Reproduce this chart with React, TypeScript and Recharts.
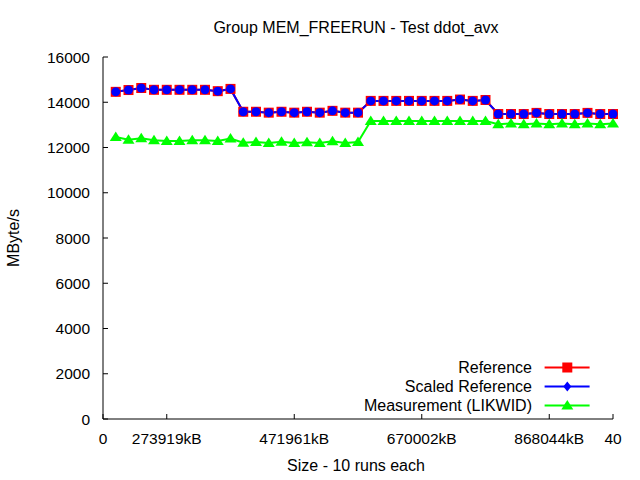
import React from 'react';
import { LineChart, Line, XAxis, YAxis, Legend } from 'recharts';

const xPositions = [
  1, 2, 3, 4, 5, 6, 7, 8, 9, 10,
  11, 12, 13, 14, 15, 16, 17, 18, 19, 20,
  21, 22, 23, 24, 25, 26, 27, 28, 29, 30,
  31, 32, 33, 34, 35, 36, 37, 38, 39, 40,
];

const referenceValues = [
  14460, 14540, 14630, 14550, 14550, 14550, 14550, 14550, 14490, 14590,
  13580, 13580, 13540, 13580, 13540, 13580, 13540, 13620, 13540, 13540,
  14060, 14060, 14060, 14060, 14060, 14060, 14060, 14120, 14060, 14100,
  13480, 13480, 13480, 13530, 13480, 13480, 13480, 13530, 13480, 13480,
];

const scaledReferenceValues = [
  14460, 14540, 14630, 14550, 14550, 14550, 14550, 14550, 14490, 14590,
  13580, 13580, 13540, 13580, 13540, 13580, 13540, 13620, 13540, 13540,
  14060, 14060, 14060, 14060, 14060, 14060, 14060, 14120, 14060, 14100,
  13480, 13480, 13480, 13530, 13480, 13480, 13480, 13530, 13480, 13480,
];

const measurementValues = [
  12460, 12340, 12410, 12320, 12290, 12290, 12320, 12320, 12290, 12400,
  12210, 12240, 12200, 12250, 12200, 12230, 12200, 12280, 12200, 12240,
  13170, 13170, 13170, 13170, 13170, 13170, 13170, 13170, 13170, 13170,
  13030, 13060, 13030, 13060, 13030, 13060, 13030, 13060, 13030, 13060,
];

const xTickValues = [0, 5, 15, 25, 35, 40];
const xTickLabels = ['0', '273919kB', '471961kB', '670002kB', '868044kB', '40'];
const xMirrorTicks = [5, 15, 25, 35];
const yTickValues = [0, 2000, 4000, 6000, 8000, 10000, 12000, 14000, 16000];

const seriesNames = ['Reference', 'Scaled Reference', 'Measurement (LIKWID)'];
const seriesKeys = ['ref', 'scaled', 'meas'];
const seriesColors = ['#ff0000', '#0000ff', '#00ff00'];
const seriesMarkers = ['square', 'diamond', 'triangle'];

const data = xPositions.map((x, i) => ({
  x,
  ref: referenceValues[i],
  scaled: scaledReferenceValues[i],
  meas: measurementValues[i],
}));

const FONT = "'Liberation Sans', Arial, sans-serif";

const SquareDot = (props: any) => {
  const { cx, cy } = props;
  if (cx == null || cy == null) return null;
  return <rect x={cx - 5} y={cy - 5} width={10} height={10} fill="#ff0000" />;
};

const CircleDot = (props: any) => {
  const { cx, cy } = props;
  if (cx == null || cy == null) return null;
  return <circle cx={cx} cy={cy} r={4.5} fill="#0000ff" />;
};

const TriangleDot = (props: any) => {
  const { cx, cy } = props;
  if (cx == null || cy == null) return null;
  return (
    <polygon
      points={`${cx},${cy - 5.5} ${cx - 6},${cy + 4} ${cx + 6},${cy + 4}`}
      fill="#00ff00"
    />
  );
};

const markerSvg = (kind: string, color: string, cx: number, cy: number) => {
  if (kind === 'square') return <rect x={cx - 5} y={cy - 5} width={10} height={10} fill={color} />;
  if (kind === 'diamond')
    return <polygon points={`${cx},${cy - 5} ${cx + 4},${cy} ${cx},${cy + 5} ${cx - 4},${cy}`} fill={color} />;
  return <polygon points={`${cx},${cy - 5.5} ${cx - 6},${cy + 4} ${cx + 6},${cy + 4}`} fill={color} />;
};

const renderLegend = () => (
  <div style={{ fontFamily: FONT, fontSize: 16, color: '#000' }}>
    {seriesNames.map((name, i) => (
      <div key={name} style={{ display: 'flex', height: 19.2, alignItems: 'center' }}>
        <div style={{ width: 292, textAlign: 'right', lineHeight: '19.2px', whiteSpace: 'nowrap' }}>{name}</div>
        <svg width={60} height={19} style={{ display: 'block' }}>
          <line x1={12.6} x2={57.6} y1={9.5} y2={9.5} stroke={seriesColors[i]} strokeWidth={2} />
          {markerSvg(seriesMarkers[i], seriesColors[i], 35.3, 9.5)}
        </svg>
      </div>
    ))}
  </div>
);

const xTickFormatter = (v: number) => {
  const idx = xTickValues.indexOf(v);
  return idx >= 0 ? xTickLabels[idx] : '';
};

const EmptyTick = () => <g />;

export default function App() {
  return (
    <div style={{ position: 'absolute', left: 0, top: 0, width: 640, height: 480, background: '#fff' }}>
      <LineChart
        width={640}
        height={480}
        data={data}
        margin={{ top: 57, right: 27, bottom: 0, left: 0 }}
      >
        <XAxis
          dataKey="x"
          type="number"
          domain={[0, 40]}
          ticks={xTickValues}
          tickFormatter={xTickFormatter}
          interval={0}
          height={61}
          tickSize={-5}
          tickMargin={18.5}
          stroke="#000"
          tick={{ fill: '#000', fontSize: 15.5, fontFamily: FONT }}
          axisLine={{ stroke: '#000', strokeWidth: 1 }}
          tickLine={{ stroke: '#000' }}
        />
        <XAxis
          xAxisId="top"
          orientation="top"
          dataKey="x"
          type="number"
          domain={[0, 40]}
          ticks={xMirrorTicks}
          interval={0}
          height={0}
          tickSize={-5}
          tick={EmptyTick}
          stroke="#000"
          axisLine={{ stroke: '#000', strokeWidth: 1 }}
        />
        <YAxis
          type="number"
          domain={[0, 16000]}
          ticks={yTickValues}
          interval={0}
          width={103}
          tickSize={-5}
          tickMargin={18}
          stroke="#000"
          tick={{ fill: '#000', fontSize: 15.5, fontFamily: FONT }}
          axisLine={{ stroke: '#000', strokeWidth: 1 }}
        />
        <YAxis
          yAxisId="right"
          orientation="right"
          type="number"
          domain={[0, 16000]}
          ticks={yTickValues}
          interval={0}
          width={0}
          tickSize={-5}
          tick={EmptyTick}
          stroke="#000"
          axisLine={{ stroke: '#000', strokeWidth: 1 }}
        />
        <Legend
          layout="horizontal"
          verticalAlign="middle"
          align="center"
          content={renderLegend}
          wrapperStyle={{ position: 'absolute', left: 240, top: 357.5, width: 360, height: 60 }}
        />
        <Line
          type="linear"
          dataKey={seriesKeys[0]}
          name={seriesNames[0]}
          stroke={seriesColors[0]}
          strokeWidth={2}
          dot={<SquareDot />}
          activeDot={false}
          isAnimationActive={false}
        />
        <Line
          type="linear"
          dataKey={seriesKeys[1]}
          name={seriesNames[1]}
          stroke={seriesColors[1]}
          strokeWidth={2}
          dot={<CircleDot />}
          activeDot={false}
          isAnimationActive={false}
        />
        <Line
          type="linear"
          dataKey={seriesKeys[2]}
          name={seriesNames[2]}
          stroke={seriesColors[2]}
          strokeWidth={2}
          dot={<TriangleDot />}
          activeDot={false}
          isAnimationActive={false}
        />
        <text x={356} y={33} textAnchor="middle" fontFamily={FONT} fontSize={16} fill="#000">
          Group MEM_FREERUN - Test ddot_avx
        </text>
        <text
          x={19}
          y={238}
          textAnchor="middle"
          fontFamily={FONT}
          fontSize={16}
          fill="#000"
          transform="rotate(-90, 19, 238)"
        >
          MByte/s
        </text>
        <text x={356} y={471} textAnchor="middle" fontFamily={FONT} fontSize={16} fill="#000">
          Size - 10 runs each
        </text>
      </LineChart>
    </div>
  );
}
